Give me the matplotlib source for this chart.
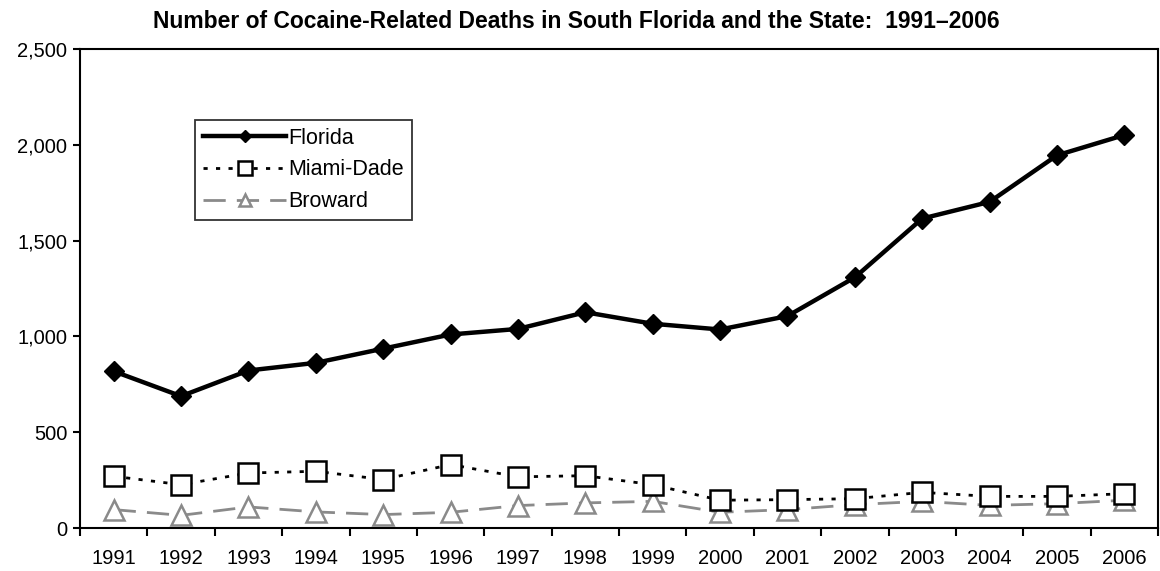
import matplotlib
matplotlib.use("Agg")
import matplotlib.pyplot as plt
from matplotlib.ticker import FuncFormatter, FixedLocator
import numpy as np

plt.rcParams['font.family'] = ['Liberation Sans', 'DejaVu Sans']

years = ['1991', '1992', '1993', '1994', '1995', '1996', '1997', '1998',
         '1999', '2000', '2001', '2002', '2003', '2004', '2005', '2006']
florida = [818, 688, 822, 862, 936, 1010, 1039, 1126, 1066, 1036, 1106, 1308, 1615, 1702, 1945, 2051]
miami_dade = [270, 226, 287, 296, 253, 331, 267, 273, 226, 145, 148, 153, 186, 165, 165, 179]
broward = [96, 66, 110, 84, 70, 82, 117, 131, 139, 82, 96, 122, 139, 118, 127, 145]

fig = plt.figure(figsize=(11.6, 5.71), dpi=100)
ax = fig.add_axes([80/1160, 1-528/571, 1078/1160, 479/571])

x = np.arange(len(years))
ax.plot(x, florida, color='black', lw=3.2, marker='D', markersize=10,
        markerfacecolor='black', markeredgecolor='black', label='Florida', zorder=3)
ax.plot(x, miami_dade, color='black', lw=2, linestyle=(0, (1.5, 3)), marker='s', markersize=15,
        markerfacecolor='white', markeredgecolor='black', markeredgewidth=1.8,
        label='Miami-Dade', zorder=3)
ax.plot(x, broward, color='#8a8a8a', lw=2, linestyle=(0, (8, 4)), marker='^', markersize=14,
        markerfacecolor='white', markeredgecolor='#8a8a8a', markeredgewidth=1.8,
        label='Broward', zorder=2)

ax.set_xlim(-0.5, len(years) - 0.5)
ax.set_ylim(0, 2500)
ax.set_yticks([0, 500, 1000, 1500, 2000, 2500])
ax.yaxis.set_major_formatter(FuncFormatter(lambda v, p: f"{int(v):,}"))

ax.xaxis.set_major_locator(FixedLocator(np.arange(-0.5, len(years), 1.0)))
ax.xaxis.set_minor_locator(FixedLocator(x))
ax.set_xticklabels([])
ax.set_xticklabels(years, minor=True)
ax.tick_params(axis='x', which='major', direction='out', length=6, width=1.5)
ax.tick_params(axis='x', which='minor', length=0, pad=15, labelsize=14.5)
ax.tick_params(axis='y', direction='out', length=5, width=1.5, labelsize=14.5, pad=4)

for s in ax.spines.values():
    s.set_linewidth(1.5)

fig.text(0.497, 0.963, 'Number of Cocaine-Related Deaths in South Florida and the State:  1991\u20132006',
         ha='center', va='center', fontsize=16.5, fontweight='bold')

leg = ax.legend(loc='upper left', bbox_to_anchor=((195-80)/1078, (528-120)/479), frameon=True,
                fancybox=False, edgecolor='black', fontsize=15.5, handlelength=3.9,
                handletextpad=0.1, borderpad=0.35, labelspacing=0.5, markerscale=0.65,
                borderaxespad=0)
leg.get_frame().set_linewidth(1.3)

fig.savefig('out.png', dpi=100)
